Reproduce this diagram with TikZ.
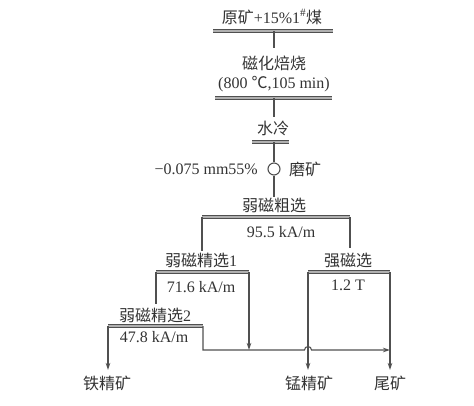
\documentclass[tikz,border=0pt]{standalone}
\usepackage{fontspec}
\setmainfont{Liberation Serif}
\newfontfamily\cjk{Noto Sans CJK SC}
\usetikzlibrary{arrows,arrows.meta}
\definecolor{ink}{HTML}{333333}
\definecolor{rule}{HTML}{505050}

\begin{document}
\begin{tikzpicture}[x=1pt,y=-1pt,>={Stealth[length=7pt,width=4.5pt]},
                    lbl/.style={inner sep=0pt,text=ink,font=\fontsize{16}{18}\selectfont},
                    bar/.style={draw=rule,line width=0.9pt,double=rule!45,double distance=1.3pt},
                    flow/.style={draw=rule,line width=1.1pt}]
  \useasboundingbox (0,0) rectangle (474,406);

  %feed%
  \node[lbl] (feed) at (272,17) {{\cjk 原矿}+15\%1\textsuperscript{\#}{\cjk 煤}};
  \coordinate (f1) at (213,31); \coordinate (f2) at (333,31);
  \coordinate (f0) at (274,31); \coordinate (r0) at (274,48);
  \draw[bar] (f1) -- (f2);
  \draw[flow] (f0) -- (r0);

  %roasting%
  \node[lbl] (roast) at (274,63) {\cjk 磁化焙烧};
  \node[lbl] (roastc) at (274,84) {(800 {\cjk ℃},105 min)};
  \coordinate (r1) at (215,98); \coordinate (r2) at (332,98);
  \coordinate (r3) at (274,98); \coordinate (w0) at (274,117);
  \draw[bar] (r1) -- (r2);
  \draw[flow] (r3) -- (w0);

  %cooling and grinding%
  \node[lbl] (cool) at (273,128) {\cjk 水冷};
  \coordinate (w1) at (252,142); \coordinate (w2) at (289,142);
  \coordinate (w3) at (274,142);
  \draw[bar] (w1) -- (w2);
  \node[circle,draw=rule,line width=1.1pt,minimum size=12pt,inner sep=0pt] (mill) at (274,169) {};
  \node[lbl,anchor=east] (size) at (258,169) {−0.075 mm55\%};
  \node[lbl,anchor=west] (millt) at (289,169) {\cjk 磨矿};
  \coordinate (g0) at (274,197);
  \draw[flow] (w3) -- (mill.north);
  \draw[flow] (mill.south) -- (g0);

  %rougher%
  \node[lbl] (rough) at (274,205) {\cjk 弱磁粗选};
  \node[lbl] (roughc) at (281,232) {95.5 kA/m};
  \coordinate (g1) at (202,217); \coordinate (g2) at (350,217);
  \coordinate (c0) at (202,251); \coordinate (s0) at (350,248);
  \draw[bar] (g1) -- (g2);
  \draw[flow] (g1) -- (c0);
  \draw[flow] (g2) -- (s0);

  %cleaner 1%
  \node[lbl] (clean1) at (201,260) {{\cjk 弱磁精选}1};
  \node[lbl] (clean1c) at (201,287) {71.6 kA/m};
  \coordinate (c1) at (156,272); \coordinate (c2) at (249,272);
  \coordinate (d0) at (156,304); \coordinate (t1) at (249,350);
  \draw[bar] (c1) -- (c2);
  \draw[flow] (c1) -- (d0);
  \draw[flow,->] (c2) -- (t1);

  %cleaner 2%
  \node[lbl] (clean2) at (155,315) {{\cjk 弱磁精选}2};
  \node[lbl] (clean2c) at (154,337) {47.8 kA/m};
  \coordinate (d1) at (108,326); \coordinate (d2) at (203,326);
  \coordinate (fe0) at (108,370);
  \draw[bar] (d1) -- (d2);
  \draw[flow,->] (d1) -- (fe0);
  \node[lbl] (fe) at (107,383) {\cjk 铁精矿};

  %scavenger%
  \node[lbl] (scav) at (348,260) {\cjk 强磁选};
  \node[lbl] (scavc) at (348,285) {1.2 T};
  \coordinate (s1) at (308,272); \coordinate (s2) at (390,272);
  \coordinate (mn0) at (308,370); \coordinate (tl0) at (390,370);
  \draw[bar] (s1) -- (s2);
  \draw[flow,->] (s1) -- (mn0);
  \draw[flow,->] (s2) -- (tl0);
  \node[lbl] (mn) at (309,383) {\cjk 锰精矿};
  \node[lbl] (tail) at (390,383) {\cjk 尾矿};

  %tailings line%
  \coordinate (d3) at (203,350); \coordinate (hop) at (304.5,350);
  \coordinate (t2) at (390,350);
  \draw[flow,->] (d2) -- (d3) -- (hop) arc[start angle=180,end angle=0,radius=3.5pt] -- (t2);
\end{tikzpicture}
\end{document}
